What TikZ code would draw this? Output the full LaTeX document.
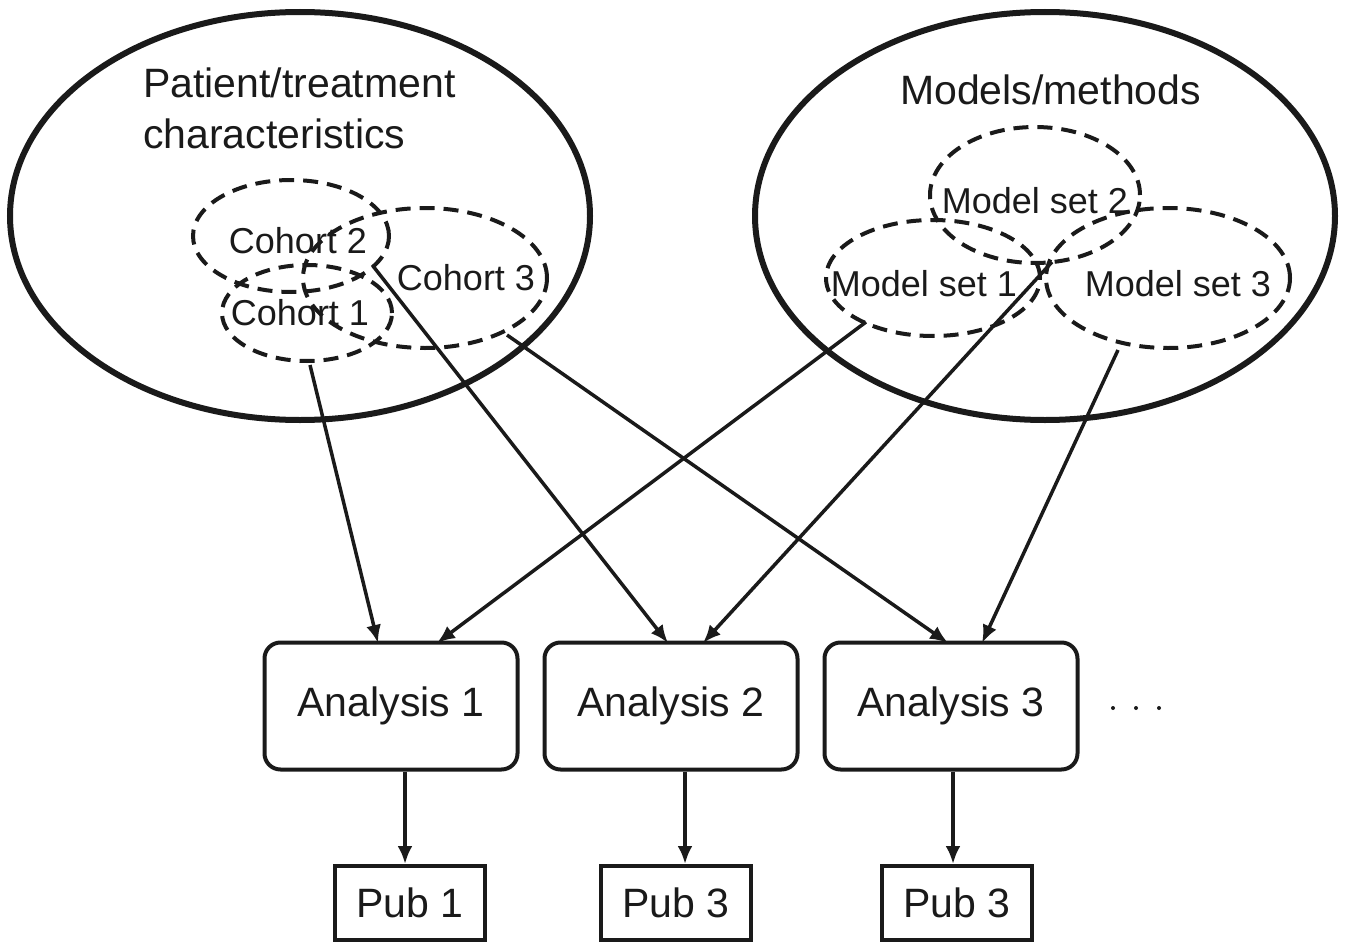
\documentclass[tikz,border=0pt]{standalone}
\usepackage{fontspec}
\setmainfont{Liberation Sans}
\usetikzlibrary{shapes.geometric,arrows.meta}
\definecolor{ink}{HTML}{1A1A1A}
\begin{document}
\begin{tikzpicture}[x=1pt,y=-1pt,
  bigell/.style={draw=ink,ellipse,line width=6pt,inner sep=0pt},
  dashell/.style={draw=ink,ellipse,line width=4pt,dash pattern=on 15pt off 9pt,inner sep=0pt},
  bigtxt/.style={font=\fontsize{41}{48}\selectfont,text=ink,inner sep=0pt},
  smalltxt/.style={font=\fontsize{36}{42}\selectfont,text=ink,inner sep=0pt},
  anbox/.style={draw=ink,rounded corners=16pt,line width=4pt,minimum width=253pt,minimum height=127pt,inner sep=0pt,font=\fontsize{41}{48}\selectfont,text=ink},
  pubbox/.style={draw=ink,line width=4pt,minimum width=150pt,minimum height=74pt,inner sep=0pt,font=\fontsize{41}{48}\selectfont,text=ink},
  conn/.style={draw=ink,line width=3.5pt,-{Latex[length=18pt,width=15pt]}},
  dot/.style={fill=ink,circle,inner sep=0pt,minimum size=4pt}
]
\useasboundingbox (0,0) rectangle (1345,942);
% big ellipses
\node[bigell,minimum width=580pt,minimum height=408pt] (pt) at (300,216) {};
\node[bigell,minimum width=580pt,minimum height=408pt] (mm) at (1045,216) {};
\node[bigtxt,anchor=base west] (pttxt1) at (143,97) {Patient/treatment};
\node[bigtxt,anchor=base west] (pttxt2) at (143,148) {characteristics};
\node[bigtxt,anchor=base west] (mmtxt) at (900,104) {Models/methods};
% cohorts
\node[dashell,minimum width=196pt,minimum height=112pt] (c2) at (291,236) {};
\node[dashell,minimum width=170pt,minimum height=96pt] (c1) at (307,313) {};
\node[dashell,minimum width=244pt,minimum height=140pt] (c3) at (425,278) {};
\node[smalltxt] (c2t) at (298,241) {Cohort 2};
\node[smalltxt] (c1t) at (300,313) {Cohort 1};
\node[smalltxt] (c3t) at (466,278) {Cohort 3};
% model sets
\node[dashell,minimum width=210pt,minimum height=136pt] (m2) at (1035,195) {};
\node[dashell,minimum width=214pt,minimum height=116pt] (m1) at (933,278) {};
\node[dashell,minimum width=244pt,minimum height=140pt] (m3) at (1168,278) {};
\node[smalltxt] (m2t) at (1035,201) {Model set 2};
\node[smalltxt] (m1t) at (924,284) {Model set 1};
\node[smalltxt] (m3t) at (1178,284) {Model set 3};
% analyses
\node[anbox] (a1) at (391,706) {Analysis 1};
\node[anbox] (a2) at (671,706) {Analysis 2};
\node[anbox] (a3) at (951,706) {Analysis 3};
\node[dot] (d1) at (1113,708) {};
\node[dot] (d2) at (1136,708) {};
\node[dot] (d3) at (1159,708) {};
% pubs
\node[pubbox] (p1) at (410,903) {Pub 1};
\node[pubbox] (p2) at (676,903) {Pub 3};
\node[pubbox] (p3) at (957,903) {Pub 3};
% arrow start points
\coordinate (s1) at (310,365);
\coordinate (s2) at (373,266);
\coordinate (s3) at (507,335);
\coordinate (s4) at (866,322);
\coordinate (s5) at (1052,262);
\coordinate (s6) at (1118,350);
\coordinate (e1a) at (378,643);
\coordinate (e1b) at (437,643);
\coordinate (e2a) at (668,643);
\coordinate (e2b) at (703,643);
\coordinate (e3a) at (948,643);
\coordinate (e3b) at (982,643);
\draw[conn] (s1) -- (e1a);
\draw[conn] (s4) -- (e1b);
\draw[conn] (s2) -- (e2a);
\draw[conn] (s5) -- (e2b);
\draw[conn] (s3) -- (e3a);
\draw[conn] (s6) -- (e3b);
\draw[conn] (a1.south -| 405,0) -- (p1.north -| 405,0);
\draw[conn] (a2.south -| 685,0) -- (p2.north -| 685,0);
\draw[conn] (a3.south -| 953,0) -- (p3.north -| 953,0);
\end{tikzpicture}
\end{document}
